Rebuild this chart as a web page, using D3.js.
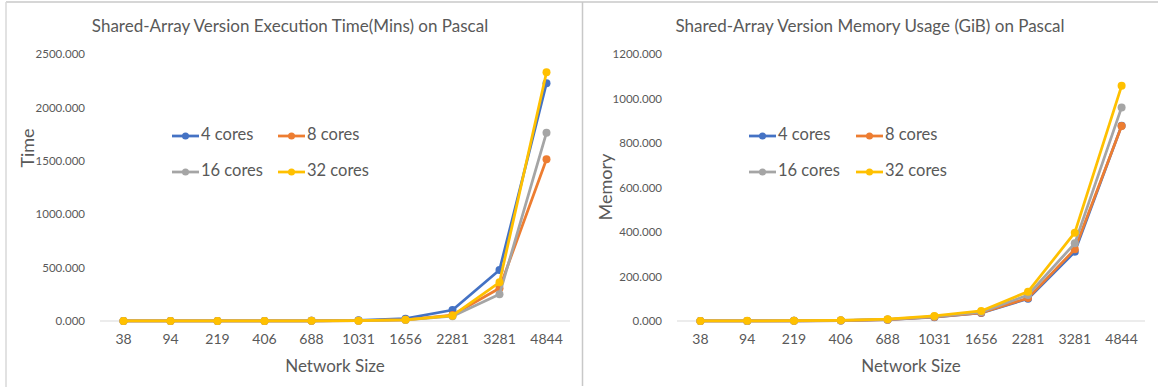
<!DOCTYPE html>
<html>
<head>
<meta charset="utf-8">
<script src="https://cdn.jsdelivr.net/npm/d3@7"></script>
<style>
  body { margin: 0; background: #fff; }
  svg text { font-family: "Lato", "Open Sans", sans-serif; fill: #595959; }
</style>
</head>
<body>
<div id="my_dataviz"></div>
<script>
// Data
const sizes = ["38", "94", "219", "406", "688", "1031", "1656", "2281", "3281", "4844"];
const seriesNames = ["4 cores", "8 cores", "16 cores", "32 cores"];
const colors = ["#4472c4", "#ed7d31", "#a5a5a5", "#ffc000"];

// Execution time (mins)
const time4 = [0.2, 0.3, 0.5, 1, 2, 6, 22, 103, 477, 2226];
const time8 = [0.1, 0.2, 0.4, 0.8, 1.5, 3, 11, 56, 306, 1514];
const time16 = [0.1, 0.2, 0.4, 0.8, 1.5, 3, 10, 45, 250, 1763];
const time32 = [0.1, 0.2, 0.4, 0.8, 1.5, 3, 11, 50, 362, 2329];
const timeTicks = [0, 500, 1000, 1500, 2000, 2500];

// Memory usage (GiB)
const mem4 = [0.2, 0.5, 1, 2, 6, 17, 36, 100, 311, 878];
const mem8 = [0.2, 0.5, 1, 2, 6, 18, 37, 103, 322, 876];
const mem16 = [0.2, 0.5, 1, 2.5, 7, 20, 40, 117, 349, 960];
const mem32 = [0.3, 0.6, 1.2, 3, 8, 23, 45, 132, 397, 1057];
const memTicks = [0, 200, 400, 600, 800, 1000, 1200];

const W = 1158, H = 387;
const svg = d3.select("#my_dataviz")
    .append("svg")
    .attr("width", W)
    .attr("height", H);

// frame lines
svg.append("line").attr("x1", 6).attr("x2", W).attr("y1", 2).attr("y2", 2)
    .attr("stroke", "#c8c8c8").attr("stroke-width", 1.5);
svg.append("line").attr("x1", 6).attr("x2", 6).attr("y1", 2).attr("y2", H)
    .attr("stroke", "#d9d9d9").attr("stroke-width", 1.5);
svg.append("line").attr("x1", 582.5).attr("x2", 582.5).attr("y1", 2).attr("y2", 386)
    .attr("stroke", "#c8c8c8").attr("stroke-width", 1.5);

function drawChart(opts) {
    const g = svg.append("g");

    const x = d3.scaleBand()
        .domain(sizes)
        .range([opts.x0, opts.x1]);

    const y = d3.scaleLinear()
        .domain([0, opts.ticks[opts.ticks.length - 1]])
        .range([321, 54]);

    // Title
    g.append("text")
        .attr("x", opts.titleX)
        .attr("y", 28)
        .attr("text-anchor", "middle")
        .attr("dominant-baseline", "middle")
        .style("font-size", "17px")
        .text(opts.title);

    // Y-axis labels
    const yAxis = g.append("g")
        .attr("transform", `translate(${opts.x0 - 12}, 0)`)
        .call(d3.axisLeft(y).tickValues(opts.ticks).tickSize(0).tickFormat(d3.format(".3f")));
    yAxis.select(".domain").remove();
    yAxis.selectAll("text")
        .style("font-size", "11.5px")
        .style("fill", "#595959")
        .style("font-family", "Lato, sans-serif");

    // baseline
    g.append("line")
        .attr("x1", opts.x0).attr("x2", opts.x1)
        .attr("y1", y(0)).attr("y2", y(0))
        .attr("stroke", "#d9d9d9").attr("stroke-width", 1);

    // X-axis labels
    const xAxis = g.append("g")
        .attr("transform", `translate(0, ${y(0) + 10})`)
        .call(d3.axisBottom(x).tickSize(0));
    xAxis.select(".domain").remove();
    xAxis.selectAll("text")
        .style("font-size", "14px")
        .style("fill", "#595959")
        .style("font-family", "Lato, sans-serif");

    // Axis titles
    g.append("text")
        .attr("transform", `translate(${opts.yTitleX}, ${opts.yTitleY}) rotate(-90)`)
        .attr("text-anchor", "middle")
        .attr("dominant-baseline", "middle")
        .style("font-size", "18px")
        .text(opts.yTitle);

    g.append("text")
        .attr("x", (opts.x0 + opts.x1) / 2)
        .attr("y", 368)
        .attr("text-anchor", "middle")
        .attr("dominant-baseline", "middle")
        .style("font-size", "17px")
        .text("Network Size");

    // Lines and markers
    const line = d3.line()
        .x((d, i) => x(sizes[i]) + x.bandwidth() / 2)
        .y(d => y(d));

    opts.series.forEach((vals, s) => {
        g.append("path")
            .datum(vals)
            .attr("fill", "none")
            .attr("stroke", colors[s])
            .attr("stroke-width", 2.75)
            .attr("stroke-linejoin", "round")
            .attr("d", line);
        g.selectAll(null)
            .data(vals)
            .enter()
            .append("circle")
            .attr("cx", (d, i) => x(sizes[i]) + x.bandwidth() / 2)
            .attr("cy", d => y(d))
            .attr("r", 4)
            .attr("fill", colors[s]);
    });

    // Legend
    const legend = g.append("g");
    seriesNames.forEach((name, i) => {
        const lx = opts.legX + (i % 2) * opts.legGap;
        const ly = i < 2 ? 136 : 172;
        const row = legend.append("g").attr("transform", `translate(${lx}, ${ly})`);
        row.append("line")
            .attr("x1", 0).attr("x2", 27)
            .attr("stroke", colors[i]).attr("stroke-width", 2.75);
        row.append("circle")
            .attr("cx", 13.5).attr("r", 3.5)
            .attr("fill", colors[i]);
        row.append("text")
            .attr("x", 29)
            .attr("dominant-baseline", "middle")
            .style("font-size", "16.5px")
            .text(name);
    });
}

drawChart({
    title: "Shared-Array Version Execution Time(Mins) on Pascal",
    titleX: 290,
    x0: 100, x1: 570,
    ticks: timeTicks,
    series: [time4, time8, time16, time32],
    yTitle: "Time",
    yTitleX: 29, yTitleY: 148,
    legX: 172, legGap: 106
});

drawChart({
    title: "Shared-Array Version Memory Usage (GiB) on Pascal",
    titleX: 870,
    x0: 677, x1: 1145,
    ticks: memTicks,
    series: [mem4, mem8, mem16, mem32],
    yTitle: "Memory",
    yTitleX: 607, yTitleY: 187,
    legX: 749, legGap: 107
});
</script>
</body>
</html>
